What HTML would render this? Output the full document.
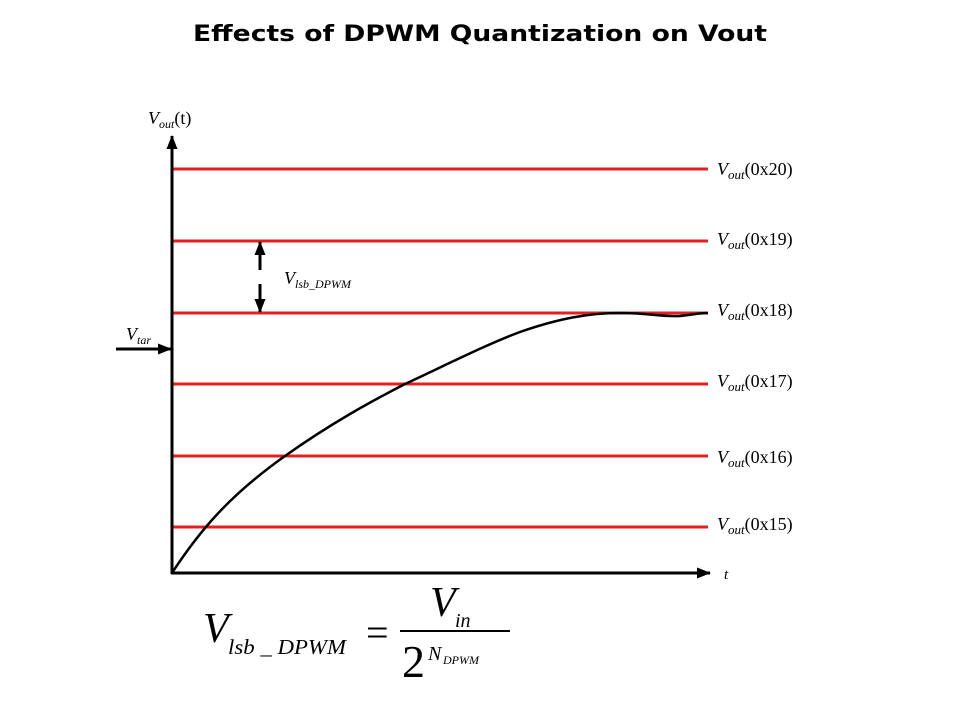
<!DOCTYPE html>
<html><head><style>body{margin:0;background:#fff}svg{display:block}</style></head><body>
<svg width="960" height="720" xmlns="http://www.w3.org/2000/svg">
<defs><marker id="a" markerWidth="14" markerHeight="14" refX="13" refY="7" orient="auto" markerUnits="userSpaceOnUse"><path d="M0,1.5 L14,7 L0,12.5 Z" fill="#000"/></marker></defs>
<text x="193" y="41" textLength="574" lengthAdjust="spacingAndGlyphs" font-family="DejaVu Sans, sans-serif" font-weight="bold" font-size="22">Effects of DPWM Quantization on Vout</text>
<g stroke="#e41f1f" stroke-width="3">
<line x1="172" y1="169" x2="708" y2="169"/><line x1="172" y1="241" x2="708" y2="241"/><line x1="172" y1="313" x2="708" y2="313"/><line x1="172" y1="384" x2="708" y2="384"/><line x1="172" y1="456" x2="708" y2="456"/><line x1="172" y1="527" x2="708" y2="527"/>
</g>
<g stroke="#000" stroke-width="3" fill="none">
<line x1="172" y1="574" x2="172" y2="136" marker-end="url(#a)"/>
<line x1="171" y1="573" x2="710" y2="573" marker-end="url(#a)"/>
<line x1="116" y1="349" x2="171" y2="349" marker-end="url(#a)"/>
<line x1="260" y1="270" x2="260" y2="242" marker-end="url(#a)"/>
<line x1="260" y1="284" x2="260" y2="312" marker-end="url(#a)"/>
<path d="M172,573 C200,530 230,495 285,456 C330,424 370,402 405,384 C450,363 490,343 520,332 C560,318 590,313 620,313 C650,313 660,317 680,316 C690,315 700,313 708,313" stroke-width="2.5"/>
</g>
<g font-family="Liberation Serif, serif" font-style="italic" font-size="18">
<text x="148" y="124">V<tspan font-size="12" dy="4">out</tspan><tspan font-style="normal" dy="-4">(t)</tspan></text>
<text x="126" y="340">V<tspan font-size="12" dy="4">tar</tspan></text>
<text x="284" y="284">V<tspan font-size="12" dy="4">lsb_DPWM</tspan></text>
<text x="724" y="579" font-size="15">t</text>
</g>
<g font-family="Liberation Serif, serif" font-size="18">
<text x="717" y="175"><tspan font-style="italic">V</tspan><tspan font-style="italic" font-size="13" dy="4">out</tspan><tspan dy="-4">(0x20)</tspan></text>
<text x="717" y="245"><tspan font-style="italic">V</tspan><tspan font-style="italic" font-size="13" dy="4">out</tspan><tspan dy="-4">(0x19)</tspan></text>
<text x="717" y="316"><tspan font-style="italic">V</tspan><tspan font-style="italic" font-size="13" dy="4">out</tspan><tspan dy="-4">(0x18)</tspan></text>
<text x="717" y="387"><tspan font-style="italic">V</tspan><tspan font-style="italic" font-size="13" dy="4">out</tspan><tspan dy="-4">(0x17)</tspan></text>
<text x="717" y="463"><tspan font-style="italic">V</tspan><tspan font-style="italic" font-size="13" dy="4">out</tspan><tspan dy="-4">(0x16)</tspan></text>
<text x="717" y="530"><tspan font-style="italic">V</tspan><tspan font-style="italic" font-size="13" dy="4">out</tspan><tspan dy="-4">(0x15)</tspan></text>
</g>
<g font-family="Liberation Serif, serif">
<text x="203" y="642" font-size="42" font-style="italic">V</text>
<text x="228" y="654" font-size="21" font-style="italic" textLength="118" lengthAdjust="spacingAndGlyphs">lsb _ DPWM</text>
<text x="366" y="646" font-size="40">=</text>
<line x1="400" y1="631" x2="510" y2="631" stroke="#000" stroke-width="2"/>
<text x="430" y="616" font-size="42" font-style="italic">V</text>
<text x="455" y="627" font-size="20" font-style="italic">in</text>
<text x="402" y="677" font-size="46">2</text>
<text x="428" y="660" font-size="20" font-style="italic">N</text>
<text x="443" y="664" font-size="12" font-style="italic">DPWM</text>
</g>
</svg>
</body></html>
